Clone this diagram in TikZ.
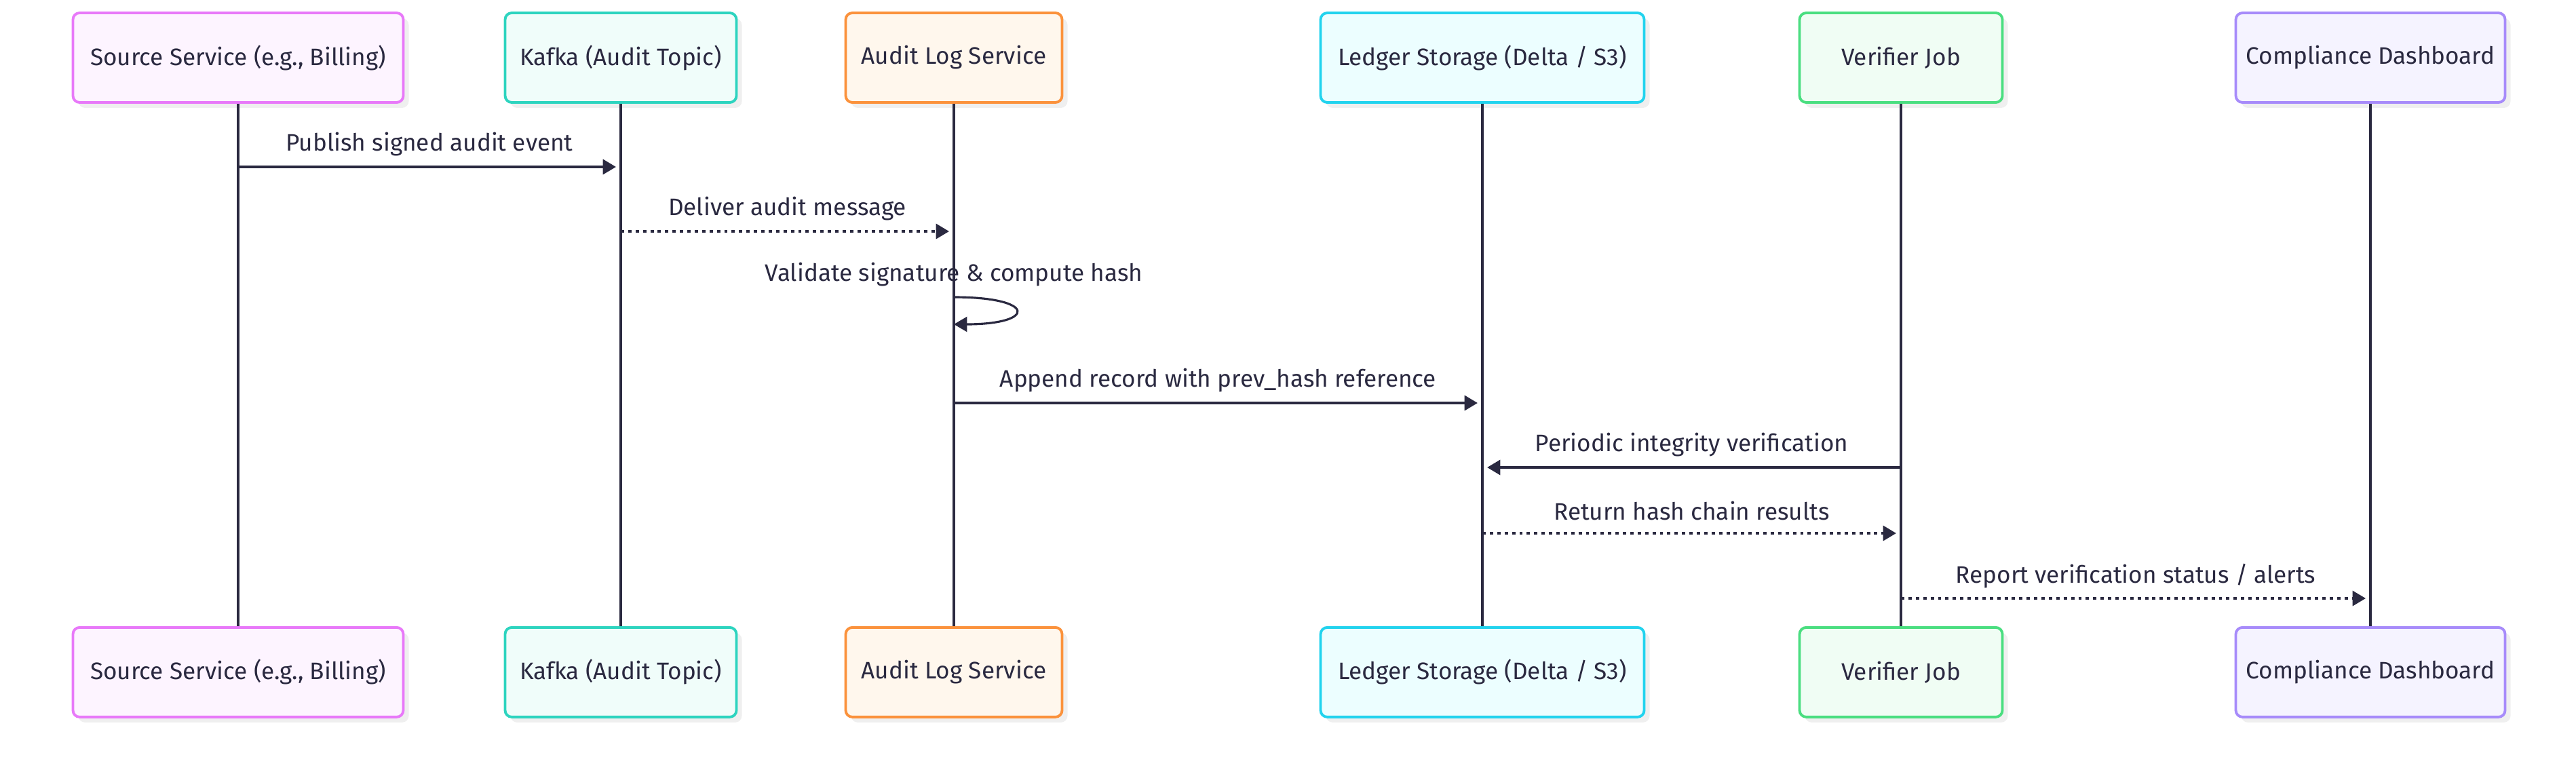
\documentclass[tikz,border=0pt]{standalone}
\usepackage{fontspec}
\setmainfont{Fira Sans}
\usetikzlibrary{positioning, arrows.meta, shadows}

\definecolor{ink}{HTML}{2A2940}
\definecolor{shadowgray}{HTML}{EFEFEF}
\definecolor{srcline}{HTML}{E879F9}
\definecolor{srcfill}{HTML}{FDF4FF}
\definecolor{kafkaline}{HTML}{2DD4BF}
\definecolor{kafkafill}{HTML}{F0FDFA}
\definecolor{auditline}{HTML}{FB923C}
\definecolor{auditfill}{HTML}{FFF7ED}
\definecolor{ledgerline}{HTML}{22D3EE}
\definecolor{ledgerfill}{HTML}{ECFEFF}
\definecolor{verifline}{HTML}{4ADE80}
\definecolor{veriffill}{HTML}{F0FDF4}
\definecolor{compline}{HTML}{A78BFA}
\definecolor{compfill}{HTML}{F5F3FF}

\begin{document}
\begin{tikzpicture}[x=1cm, y=1cm]
	\tikzset{
	node distance=7.7cm, % gap between an actor box and its copy at the bottom
	actor/.style={draw, line width=1.1pt, rounded corners=2.8pt, minimum height=1.32cm,
		text=ink, font=\fontsize{10}{12}\selectfont,
		drop shadow={shadow xshift=0.08cm, shadow yshift=-0.08cm, fill=shadowgray, opacity=1}}, % the participant boxes
	life/.style={draw=ink, line width=0.9pt}, % vertical lifelines
	msg/.style={draw=ink, line width=1.15pt, shorten >=0.07cm, -{Triangle[length=5.5pt, width=6.2pt]}}, % solid message
	reply/.style={msg, dash pattern=on 1.4pt off 1.7pt}, % dotted message
	txt/.style={text=ink, font=\fontsize{10}{12}\selectfont, inner sep=0pt}, % plain message text
	lbl/.style={txt, midway, yshift=0.33cm} % message text on an arrow
	}
	\useasboundingbox (0,0) rectangle (37.97,-11.34);

	% top row of actors
	\node[actor, draw=srcline, fill=srcfill, minimum width=4.87cm] (src) at (3.51,-0.85) {Source Service (e.g., Billing)};
	\node[actor, draw=kafkaline, fill=kafkafill, minimum width=3.41cm] (kafka) at (9.15,-0.85) {Kafka (Audit Topic)};
	\node[actor, draw=auditline, fill=auditfill, minimum width=3.19cm] (audit) at (14.06,-0.85) {Audit Log Service};
	\node[actor, draw=ledgerline, fill=ledgerfill, minimum width=4.77cm] (ledger) at (21.85,-0.85) {Ledger Storage (Delta / S3)};
	\node[actor, draw=verifline, fill=veriffill, minimum width=2.99cm] (verif) at (28.02,-0.85) {Verifier Job};
	\node[actor, draw=compline, fill=compfill, minimum width=3.97cm] (comp) at (34.94,-0.85) {Compliance Dashboard};

	% bottom row of actors
	\node[actor, draw=srcline, fill=srcfill, minimum width=4.87cm, below=of src] (srcB) {Source Service (e.g., Billing)};
	\node[actor, draw=kafkaline, fill=kafkafill, minimum width=3.41cm, below=of kafka] (kafkaB) {Kafka (Audit Topic)};
	\node[actor, draw=auditline, fill=auditfill, minimum width=3.19cm, below=of audit] (auditB) {Audit Log Service};
	\node[actor, draw=ledgerline, fill=ledgerfill, minimum width=4.77cm, below=of ledger] (ledgerB) {Ledger Storage (Delta / S3)};
	\node[actor, draw=verifline, fill=veriffill, minimum width=2.99cm, below=of verif] (verifB) {Verifier Job};
	\node[actor, draw=compline, fill=compfill, minimum width=3.97cm, below=of comp] (compB) {Compliance Dashboard};

	% lifelines
	\draw[life] (src) -- (srcB);
	\draw[life] (kafka) -- (kafkaB);
	\draw[life] (audit) -- (auditB);
	\draw[life] (ledger) -- (ledgerB);
	\draw[life] (verif) -- (verifB);
	\draw[life] (comp) -- (compB);

	% message rows
	\coordinate (r1) at (0,-2.46);
	\coordinate (r2) at (0,-3.41);
	\coordinate (r3) at (0,-4.38);
	\coordinate (r3b) at (0,-4.78);
	\coordinate (r4) at (0,-5.94);
	\coordinate (r5) at (0,-6.89);
	\coordinate (r6) at (0,-7.86);
	\coordinate (r7) at (0,-8.82);

	\draw[msg] (src |- r1) -- node[lbl] {Publish signed audit event} (kafka |- r1);
	\draw[reply] (kafka |- r2) -- node[lbl] {Deliver audit message} (audit |- r2);
	\node[txt] (selfmsg) at ([yshift=0.33cm]audit |- r3) {Validate signature \& compute hash};
	\draw[msg, line width=0.9pt, shorten >=0pt] (audit |- r3) .. controls ([xshift=1.22cm]audit |- r3) and ([xshift=1.22cm]audit |- r3b) .. (audit |- r3b);
	\draw[msg] (audit |- r4) -- node[lbl] {Append record with prev\_hash reference} (ledger |- r4);
	\draw[msg] (verif |- r5) -- node[lbl] {Periodic integrity verification} (ledger |- r5);
	\draw[reply] (ledger |- r6) -- node[lbl] {Return hash chain results} (verif |- r6);
	\draw[reply] (verif |- r7) -- node[lbl] {Report verification status / alerts} (comp |- r7);
\end{tikzpicture}
\end{document}
